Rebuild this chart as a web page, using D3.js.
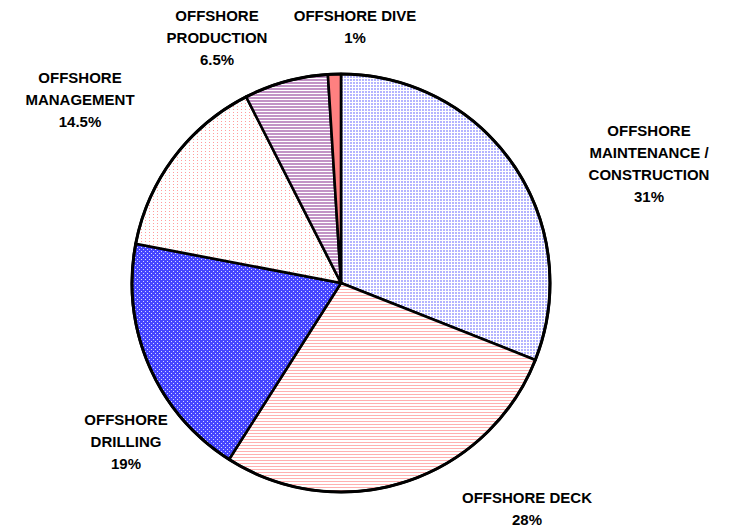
<!DOCTYPE html>
<html>
<head>
<meta charset="utf-8">
<script src="https://cdn.jsdelivr.net/npm/d3@7"></script>
<style>
  body { margin: 0; background: #fff; }
  text { font-family: "Liberation Sans", Arial, sans-serif; font-weight: bold; font-size: 15px; fill: #000; }
</style>
</head>
<body>
<svg id="chart" width="731" height="532"></svg>
<script>
// slice data, clockwise from 12 o'clock
var categories = ["MAINTENANCE / CONSTRUCTION", "DECK", "DRILLING", "MANAGEMENT", "PRODUCTION", "DIVE"];
var values = [31, 28, 19, 14.5, 6.5, 1];
var labelLines = [
    ["OFFSHORE", "MAINTENANCE /", "CONSTRUCTION"],
    ["OFFSHORE DECK"],
    ["OFFSHORE", "DRILLING"],
    ["OFFSHORE", "MANAGEMENT"],
    ["OFFSHORE", "PRODUCTION"],
    ["OFFSHORE DIVE"]
];

// layout
var cx = 341, cy = 283, radius = 209;
var lineGap = 22;
// label anchors (center x, first line y), placed by hand like the original
var labelAt = [[649, 131], [527, 498], [126, 420], [80, 78], [217, 16], [355, 16]];

var svg = d3.select("#chart");
var defs = svg.append("defs");

// fill patterns
function pattern(id, w, h, bg, cells) {
    var p = defs.append("pattern")
        .attr("id", id)
        .attr("patternUnits", "userSpaceOnUse")
        .attr("width", w).attr("height", h);
    p.append("rect").attr("width", w).attr("height", h).attr("fill", bg);
    cells.forEach(function (c) {
        p.append("rect").attr("x", c[0]).attr("y", c[1])
            .attr("width", c[2]).attr("height", c[3]).attr("fill", c[4]);
    });
    return "url(#" + id + ")";
}

var fills = [
    pattern("p-maint", 3, 3, "#ffffff", [[0, 0, 2, 2, "#b4b4ff"]]),
    pattern("p-deck", 3, 3, "#ffffff", [[0, 0, 3, 1, "#ffb0b0"]]),
    pattern("p-drill", 4, 4, "#4646ff", [[0, 0, 1, 1, "#d8d8ff"], [2, 2, 1, 1, "#d8d8ff"]]),
    pattern("p-manage", 4, 3, "#ffffff", [[0, 0, 1, 1, "#ff9c9c"]]),
    pattern("p-prod", 3, 3, "#ffffff", [[0, 0, 3, 2, "#c293c6"]]),
    "#ff8080"
];

var pie = d3.pie().sort(null).value(function (d) { return d; });
var arc = d3.arc().innerRadius(0).outerRadius(radius);

var g = svg.append("g").attr("transform", "translate(" + cx + "," + cy + ")");

g.selectAll("path.slice")
    .data(pie(values))
    .enter().append("path")
    .attr("class", "slice")
    .attr("d", arc)
    .attr("fill", function (d, i) { return fills[i]; })
    .attr("stroke", "#000")
    .attr("stroke-width", 2.6)
    .attr("stroke-linejoin", "round");

// outer rim
g.append("circle")
    .attr("r", radius)
    .attr("fill", "none")
    .attr("stroke", "#000")
    .attr("stroke-width", 3);

// labels
var labels = svg.selectAll("text.lbl")
    .data(values)
    .enter().append("text")
    .attr("class", "lbl")
    .attr("text-anchor", "middle");

labels.each(function (v, i) {
    var t = d3.select(this);
    var lines = labelLines[i].concat([v + "%"]);
    lines.forEach(function (s, k) {
        t.append("tspan")
            .attr("x", labelAt[i][0])
            .attr("y", labelAt[i][1] + k * lineGap)
            .attr("dy", "0.36em")
            .text(s);
    });
});
</script>
</body>
</html>
